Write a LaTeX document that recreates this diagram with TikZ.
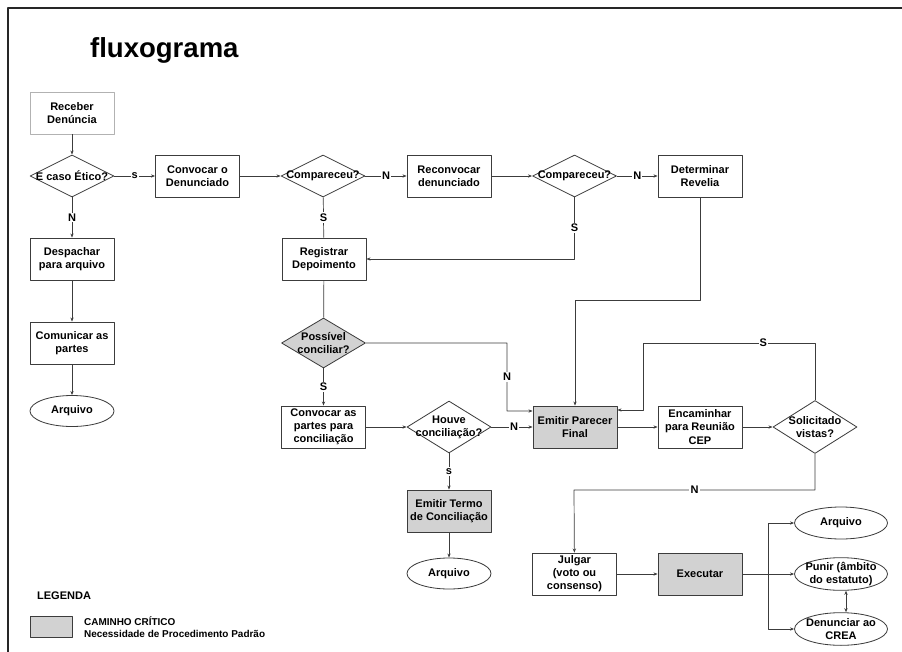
\documentclass[tikz,border=0pt]{standalone}
\usepackage{fontspec}
\setmainfont{Liberation Sans}
\usetikzlibrary{shapes.geometric,arrows.meta}
\definecolor{linha}{HTML}{3C3C3C}
\definecolor{critico}{HTML}{D2D2D2}

\begin{document}
\begin{tikzpicture}[x=0.03cm, y=-0.03cm, font=\fontsize{9.4}{11.2}\selectfont\bfseries, line join=round, >={Stealth[length=3.5pt,width=2.8pt]},
	caixa/.style={draw=linha, line width=0.7pt, fill=white, minimum width=2.52cm, minimum height=1.26cm, align=center, inner sep=1pt},
	critica/.style={caixa, fill=critico},
	decisao/.style={diamond, draw=linha, line width=0.7pt, fill=white, minimum width=2.52cm, minimum height=1.26cm, inner sep=0pt},
	fim/.style={ellipse, draw=linha, line width=0.7pt, minimum width=2.52cm, minimum height=0.93cm, inner sep=0pt, align=center},
	liga/.style={draw=linha, line width=0.6pt},
	rot/.style={fill=white, inner sep=1pt}]
	\useasboundingbox (0,0) rectangle (902,652);
	\draw[line width=2pt, draw=black!85] (902,8) -- (8,8) -- (8,652);
	\node[anchor=west, font=\fontsize{23.5}{26}\selectfont\bfseries] (titulo) at (86,50) {fluxograma};
	% primeira linha
	\node[caixa, draw=gray!60] (receber) at (72,113) {Receber\\Denúncia};
	\node[decisao, label={center:E caso Ético?}] (etico) at (72,176) {};
	\node[caixa] (convocar) at (197.5,176) {Convocar o\\Denunciado};
	\node[decisao, label={center:Compareceu?}] (comp1) at (323,176) {};
	\node[caixa] (reconv) at (449,176) {Reconvocar\\denunciado};
	\node[decisao, label={center:Compareceu?}] (comp2) at (574.5,176) {};
	\node[caixa] (revelia) at (700,176) {Determinar\\Revelia};
	\node[caixa] (despachar) at (72,259) {Despachar\\para arquivo};
	\node[caixa] (registrar) at (324,259) {Registrar\\Depoimento};
	\node[caixa] (comunicar) at (72,343) {Comunicar as\\partes};
	\node[decisao, fill=critico, minimum height=1.5cm, label={[align=center]center:{Possível\\conciliar?}}] (possivel) at (323.5,343) {};
	\node[fim] (arq1) at (72,411) {Arquivo};
	% conciliacao e parecer
	\node[caixa] (convpartes) at (323.5,427) {Convocar as\\partes para\\conciliação};
	\node[decisao, minimum height=1.56cm, label={[align=center]center:{Houve\\conciliação?}}] (houve) at (449,427) {};
	\node[critica] (parecer) at (575,427) {Emitir Parecer\\Final};
	\node[caixa] (encaminhar) at (700,427) {Encaminhar\\para Reunião\\CEP};
	\node[decisao, minimum height=1.59cm, label={[align=center]center:{Solicitado\\vistas?}}] (vistas) at (815,427) {};
	\node[critica] (termo) at (449,511) {Emitir Termo\\de Conciliação};
	\node[fim] (arq2) at (449,573.5) {Arquivo};
	% julgamento
	\node[caixa] (julgar) at (574.5,574) {Julgar\\(voto ou\\consenso)};
	\node[critica] (executar) at (700,574) {Executar};
	\node[fim, minimum width=2.79cm, minimum height=0.96cm, label={center:Arquivo}] (arq3) at (841,523) {};
	\node[fim, minimum width=2.79cm, minimum height=0.98cm, label={[align=center]center:{Punir (âmbito\\do estatuto)}}] (punir) at (841,574) {};
	\node[fim, minimum width=2.79cm, minimum height=0.98cm, label={[align=center]center:{Denunciar ao\\CREA}}] (crea) at (841,629) {};
	% pontos de dobra
	\coordinate (dobraN) at (507,411);
	\coordinate (dobraR) at (700,300);
	\coordinate (voltaS) at (643,343);
	\coordinate (voltaN) at (574,490);
	\coordinate (ramo) at (768,574);
	% ligacoes
	\draw[liga,->] (receber) -- (etico);
	\draw[liga,->] (etico) -- node[rot]{s} (convocar);
	\draw[liga,->] (etico) -- node[rot]{N} (despachar);
	\draw[liga,->] (despachar) -- (comunicar);
	\draw[liga,->] (comunicar) -- (arq1);
	\draw[liga,->] (convocar) -- (comp1);
	\draw[liga,->] (comp1) -- node[rot]{N} (reconv);
	\draw[liga] (comp1) -- node[rot]{S} (registrar);
	\draw[liga,->] (reconv) -- (comp2);
	\draw[liga,->] (comp2) -- node[rot]{N} (revelia);
	\draw[liga,->] (comp2) |- node[rot, pos=0.25]{S} (registrar);
	\draw[liga] (registrar) -- (possivel);
	\draw[liga,->] (possivel) -- node[rot]{S} (convpartes);
	\draw[liga,->] (possivel.east) -| node[rot, pos=0.75]{N} (dobraN) -- ([yshift=0.48cm]parecer.west);
	\draw[liga,->] (convpartes) -- (houve);
	\draw[liga,->] (houve) -- node[rot, pos=0.55]{N} (parecer);
	\draw[liga,->] (houve) -- node[rot]{s} (termo);
	\draw[liga,->] (termo) -- (arq2);
	\draw[liga,->] (revelia) -- (dobraR) -| (parecer);
	\draw[liga,->] (parecer) -- (encaminhar);
	\draw[liga,->] (encaminhar) -- (vistas);
	\draw[liga,->] (vistas.north) |- node[rot, pos=0.65]{S} (voltaS) |- ([yshift=0.51cm]parecer.east);
	\draw[liga,->] (vistas.south) |- node[rot, pos=0.75]{N} (voltaN) -- (julgar);
	\draw[liga,->] (julgar) -- (executar);
	\draw[liga] (executar) -- (ramo);
	\draw[liga,->] (ramo) |- (arq3);
	\draw[liga,->] (ramo) -- (punir);
	\draw[liga,->] (ramo) |- (crea);
	\draw[liga,<->] ([xshift=0.15cm]punir.south) -- ([xshift=0.15cm]crea.north);
	% legenda
	\node[anchor=west] (legenda) at (33,596) {LEGENDA};
	\node[critica, minimum width=1.26cm, minimum height=0.63cm] (amostra) at (51,626.5) {};
	\node[anchor=west, align=left, font=\fontsize{8.5}{9.8}\selectfont\bfseries] (nota) at (80,627) {CAMINHO CRÍTICO\\Necessidade de Procedimento Padrão};
\end{tikzpicture}
\end{document}
